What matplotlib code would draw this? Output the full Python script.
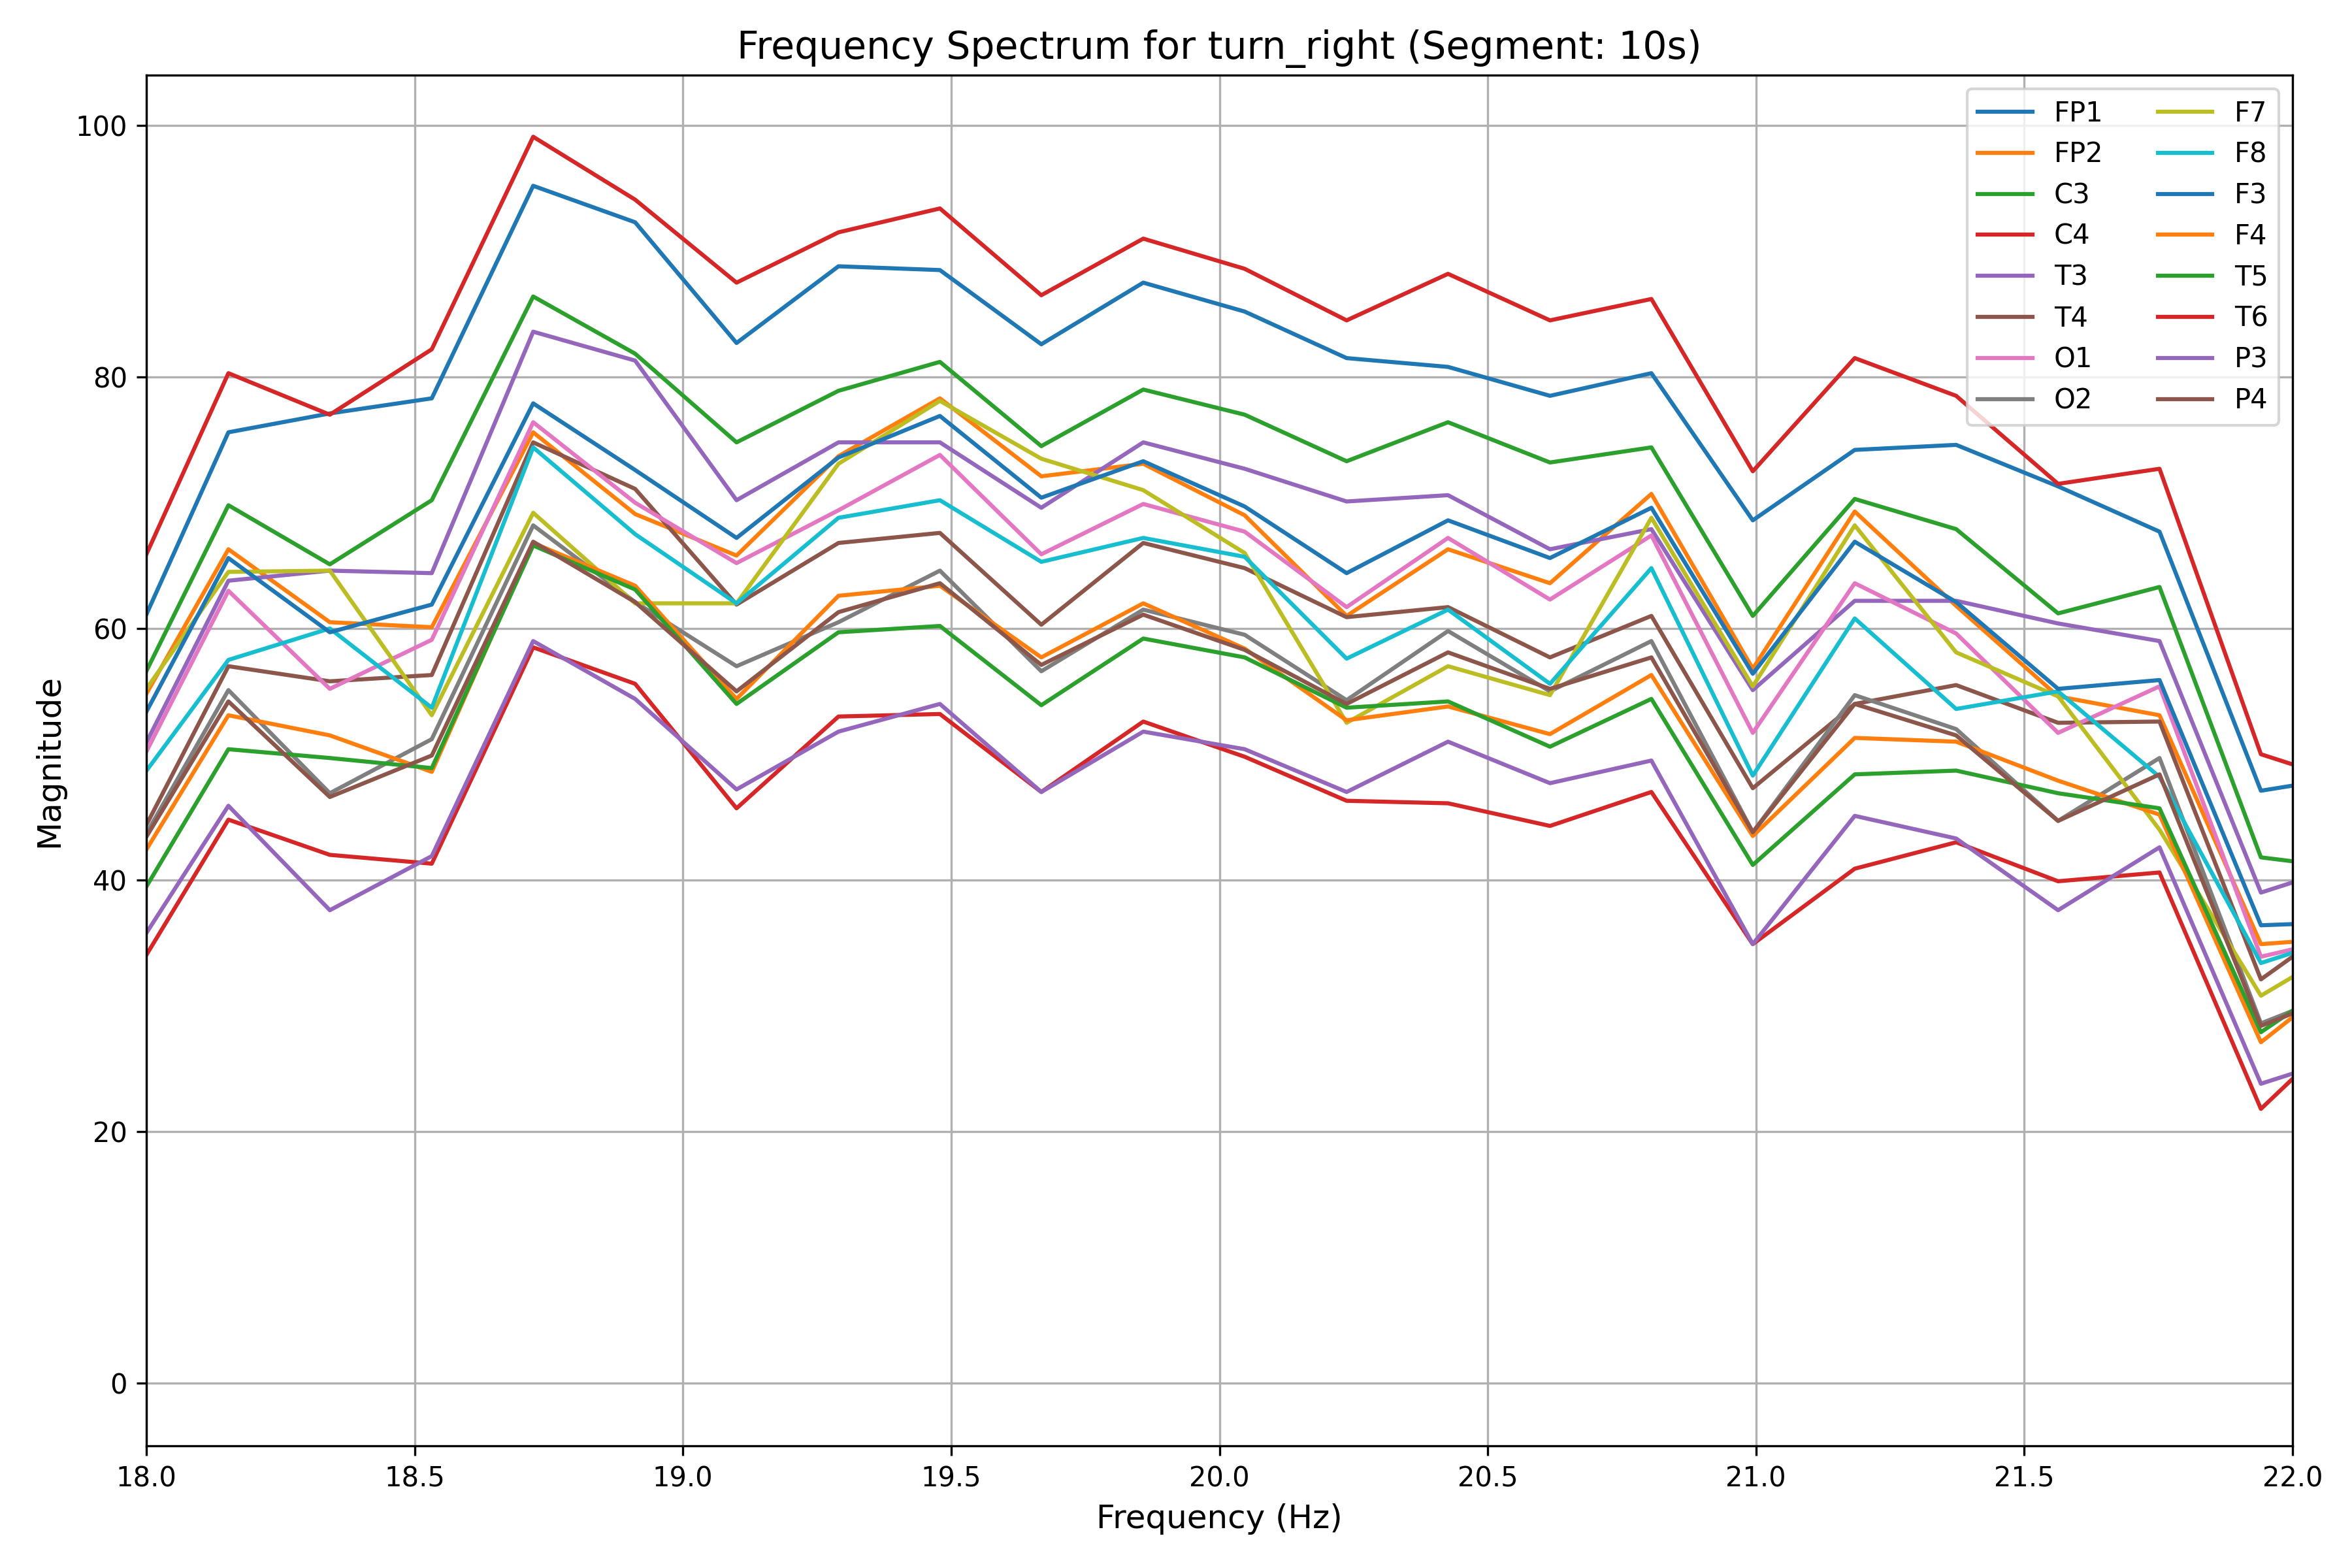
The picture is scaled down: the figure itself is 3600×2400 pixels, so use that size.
import matplotlib
matplotlib.use("Agg")
import matplotlib.pyplot as plt

# frequency bins (Hz); first and last bins sit just outside the visible window
freqs = [17.964, 18.153, 18.342, 18.532, 18.721, 18.911, 19.100, 19.290, 19.479,
         19.668, 19.858, 20.047, 20.237, 20.426, 20.616, 20.805, 20.994, 21.184,
         21.373, 21.563, 21.752, 21.941, 22.131]

channels = ['FP1', 'FP2', 'C3', 'C4', 'T3', 'T4', 'O1', 'O2',
            'F7', 'F8', 'F3', 'F4', 'T5', 'T6', 'P3', 'P4']

FP1 = [57.7, 75.6, 77.1, 78.3, 95.2, 92.3, 82.7, 88.8, 88.5, 82.6, 87.5, 85.2,
       81.5, 80.8, 78.5, 80.3, 68.6, 74.2, 74.6, 71.3, 67.7, 47.1, 48.4]
FP2 = [52.1, 66.3, 60.5, 60.1, 75.6, 69.1, 65.8, 73.7, 78.3, 72.1, 73.1, 69.0,
       61.0, 66.3, 63.6, 70.7, 56.8, 69.3, 61.8, 54.6, 53.1, 34.9, 35.5]
C3 = [53.5, 69.8, 65.1, 70.2, 86.4, 81.85, 74.8, 78.9, 81.2, 74.5, 79.0, 77.0,
      73.3, 76.4, 73.2, 74.4, 61.0, 70.3, 67.9, 61.2, 63.3, 41.8, 40.8]
C4 = [62.5, 80.3, 77.0, 82.2, 99.1, 94.1, 87.5, 91.5, 93.4, 86.5, 91.0, 88.6,
      84.5, 88.2, 84.5, 86.2, 72.5, 81.5, 78.5, 71.5, 72.7, 50.0, 47.4]
T3 = [47.9, 63.8, 64.6, 64.4, 83.6, 81.3, 70.2, 74.8, 74.8, 69.6, 74.8, 72.7,
      70.1, 70.6, 66.3, 67.9, 55.1, 62.2, 62.2, 60.4, 59.0, 39.0, 41.6]
T4 = [41.4, 57.0, 55.8, 56.3, 74.8, 71.1, 61.9, 66.8, 67.6, 60.3, 66.8, 64.8,
      60.9, 61.7, 57.7, 61.0, 47.3, 54.0, 55.5, 52.5, 52.6, 32.1, 37.9]
O1 = [47.2, 63.0, 55.2, 59.1, 76.4, 70.0, 65.2, 69.4, 73.8, 65.9, 69.9, 67.7,
      61.7, 67.2, 62.3, 67.4, 51.7, 63.6, 59.6, 51.7, 55.4, 33.9, 35.8]
O2 = [41.0, 55.1, 46.9, 51.2, 68.2, 62.1, 57.0, 60.5, 64.6, 56.6, 61.5, 59.5,
      54.3, 59.8, 55.0, 59.0, 43.8, 54.7, 52.0, 44.7, 49.7, 28.6, 31.8]
F7 = [53.0, 64.5, 64.6, 53.1, 69.2, 62.0, 62.0, 73.1, 78.1, 73.5, 71.0, 66.0,
      52.5, 57.0, 54.7, 68.8, 55.4, 68.2, 58.1, 54.6, 44.0, 30.8, 35.6]
F8 = [46.6, 57.5, 60.0, 53.7, 74.4, 67.5, 62.0, 68.8, 70.2, 65.3, 67.2, 65.7,
      57.6, 61.5, 55.6, 64.8, 48.3, 60.8, 53.6, 55.0, 48.2, 33.4, 36.0]
F3 = [50.5, 65.6, 59.7, 61.9, 77.9, 72.6, 67.2, 73.6, 76.9, 70.4, 73.3, 69.7,
      64.4, 68.6, 65.6, 69.6, 56.4, 66.9, 62.1, 55.2, 55.9, 36.4, 36.7]
F4 = [39.9, 53.1, 51.5, 48.6, 66.8, 63.4, 54.4, 62.6, 63.4, 57.7, 62.0, 58.4,
      52.7, 53.8, 51.6, 56.3, 43.5, 51.3, 51.0, 47.9, 45.2, 27.1, 33.5]
T5 = [36.9, 50.4, 49.7, 48.9, 66.6, 63.1, 54.0, 59.7, 60.2, 53.9, 59.2, 57.7,
      53.7, 54.2, 50.6, 54.4, 41.2, 48.4, 48.7, 46.9, 45.7, 27.9, 33.4]
T6 = [31.5, 44.8, 42.0, 41.3, 58.5, 55.6, 45.7, 53.0, 53.2, 47.0, 52.6, 49.8,
      46.3, 46.1, 44.3, 47.0, 34.9, 40.9, 43.0, 39.9, 40.6, 21.8, 29.5]
P3 = [33.4, 45.9, 37.6, 41.9, 59.0, 54.4, 47.2, 51.8, 54.0, 47.0, 51.8, 50.4,
      47.0, 51.0, 47.7, 49.5, 34.9, 45.1, 43.3, 37.6, 42.6, 23.8, 26.4]
P4 = [40.9, 54.2, 46.6, 49.9, 66.9, 62.1, 55.0, 61.3, 63.6, 57.1, 61.1, 58.3,
      54.0, 58.1, 55.2, 57.7, 43.8, 54.0, 51.5, 44.7, 48.4, 28.4, 31.6]

magnitudes = [FP1, FP2, C3, C4, T3, T4, O1, O2, F7, F8, F3, F4, T5, T6, P3, P4]

fig, ax = plt.subplots(figsize=(12, 8))

for name, mag in zip(channels, magnitudes):
    ax.plot(freqs, mag, label=name)

ax.set_xlim(18, 22)
ax.set_ylim(-5, 104)
ax.set_title('Frequency Spectrum for turn_right (Segment: 10s)', fontsize=14)
ax.set_xlabel('Frequency (Hz)', fontsize=12)
ax.set_ylabel('Magnitude', fontsize=12)
ax.grid(True)
ax.legend(loc='upper right', ncol=2)

fig.tight_layout()
plt.savefig('out.png', dpi=300)
